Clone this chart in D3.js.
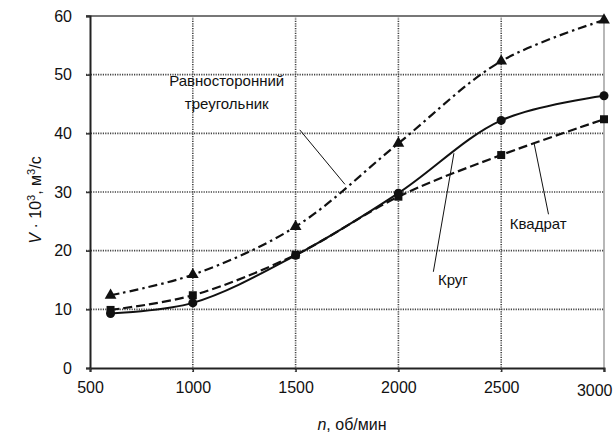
<!DOCTYPE html>
<html>
<head>
<meta charset="utf-8">
<script src="https://cdn.jsdelivr.net/npm/d3@7"></script>
<style>
  html, body { margin: 0; padding: 0; background: #fff; }
  svg { display: block; font-family: "Liberation Sans", Arial, sans-serif; }
</style>
</head>
<body>
<svg id="chart" width="614" height="433"></svg>
<script>
// ---- data ----
const nValues = [600, 1000, 1500, 2000, 2500, 3000];
const triangleValues = [12.4, 15.9, 24.1, 38.3, 52.3, 59.3];
const circleValues = [9.3, 11.1, 19.2, 29.8, 42.2, 46.4];
const squareValues = [9.9, 12.4, 19.3, 29.2, 36.3, 42.4];
const xTicks = [500, 1000, 1500, 2000, 2500, 3000];
const yTicks = [0, 10, 20, 30, 40, 50, 60];
const seriesNames = ["Равносторонний треугольник", "Круг", "Квадрат"];

(function () {
const svg = d3.select("#chart");
const pLeft = 90, pRight = 604, pTop = 16, pBottom = 368;

const x = d3.scaleLinear().domain([500, 3000]).range([pLeft, pRight]);
const y = d3.scaleLinear().domain([0, 60]).range([pBottom, pTop]);

// grid
const grid = svg.append("g");
grid.selectAll(".hg").data(yTicks.filter(v => v > 0 && v < 60)).join("line")
  .attr("x1", pLeft - 4).attr("x2", pRight)
  .attr("y1", d => y(d)).attr("y2", d => y(d))
  .attr("stroke", "#444").attr("stroke-width", 1.6).attr("stroke-dasharray", "1.2,1.2");
grid.selectAll(".vg").data(xTicks.filter(v => v > 500 && v < 3000)).join("line")
  .attr("x1", d => x(d)).attr("x2", d => x(d))
  .attr("y1", pTop).attr("y2", pBottom + 4)
  .attr("stroke", "#444").attr("stroke-width", 1.6).attr("stroke-dasharray", "1.2,1.2");

// top and right borders
svg.append("line").attr("x1", pLeft - 4).attr("x2", pRight).attr("y1", y(60)).attr("y2", y(60))
  .attr("stroke", "#777").attr("stroke-width", 2);
svg.append("line").attr("x1", pRight).attr("x2", pRight).attr("y1", pTop).attr("y2", pBottom + 4)
  .attr("stroke", "#888").attr("stroke-width", 1.2);

// axes
const yAxis = svg.append("g").attr("transform", `translate(${pLeft},0)`)
  .call(d3.axisLeft(y).tickValues(yTicks).tickFormat(d3.format("d")).tickSize(4).tickPadding(14));
const xAxis = svg.append("g").attr("transform", `translate(0,${pBottom})`)
  .call(d3.axisBottom(x).tickValues(xTicks).tickFormat(d3.format("d")).tickSize(4).tickPadding(10));
[yAxis, xAxis].forEach(a => {
  a.select(".domain").attr("stroke", "#222").attr("stroke-width", 2);
  a.selectAll(".tick line").attr("stroke", "#333").attr("stroke-width", 1.5);
  a.selectAll("text").attr("font-size", 16).attr("fill", "#111")
    .style("font-family", '"Liberation Sans", Arial, sans-serif');
});
xAxis.selectAll(".tick text").filter(d => d === 3000).attr("text-anchor", "end").attr("dx", 8).attr("dy", "0.85em");

// lines
const pts = vals => nValues.map((n, i) => [n, vals[i]]);
const line = d3.line().x(d => x(d[0])).y(d => y(d[1])).curve(d3.curveCatmullRom.alpha(0.5));

svg.append("path").datum(pts(triangleValues)).attr("d", line)
  .attr("fill", "none").attr("stroke", "#111").attr("stroke-width", 2.2)
  .attr("stroke-dasharray", "9,4,2.5,4");
svg.append("path").datum(pts(squareValues)).attr("d", line)
  .attr("fill", "none").attr("stroke", "#111").attr("stroke-width", 2.2)
  .attr("stroke-dasharray", "9,4");
svg.append("path").datum(pts(circleValues)).attr("d", line)
  .attr("fill", "none").attr("stroke", "#111").attr("stroke-width", 2);

// markers
const sym = (type, size) => d3.symbol().type(type).size(size)();
svg.selectAll(".tri").data(pts(triangleValues)).join("path")
  .attr("d", sym(d3.symbolTriangle, 60))
  .attr("transform", d => `translate(${x(d[0])},${y(d[1])})`).attr("fill", "#111");
svg.selectAll(".sq").data(pts(squareValues)).join("path")
  .attr("d", sym(d3.symbolSquare, 64))
  .attr("transform", d => `translate(${x(d[0])},${y(d[1])})`).attr("fill", "#111");
svg.selectAll(".ci").data(pts(circleValues)).join("path")
  .attr("d", sym(d3.symbolCircle, 64))
  .attr("transform", d => `translate(${x(d[0])},${y(d[1])})`).attr("fill", "#111");

// annotations
const ann = svg.append("g").attr("font-size", 15).attr("fill", "#111");
const words = seriesNames[0].split(" ");
ann.append("text").attr("x", x(1165)).attr("y", y(48.1)).attr("text-anchor", "middle").text(words[0]);
ann.append("text").attr("x", x(1165)).attr("y", y(44.2)).attr("text-anchor", "middle").text(words[1]);
ann.append("line").attr("x1", x(1520)).attr("y1", y(40.6)).attr("x2", x(1740)).attr("y2", y(31.3))
  .attr("stroke", "#111").attr("stroke-width", 1);

ann.append("text").attr("x", x(2265)).attr("y", y(14.1)).attr("text-anchor", "middle").text(seriesNames[1]);
ann.append("line").attr("x1", x(2170)).attr("y1", y(16.4)).attr("x2", x(2270)).attr("y2", y(36.6))
  .attr("stroke", "#111").attr("stroke-width", 1);

ann.append("text").attr("x", x(2680)).attr("y", y(23.7)).attr("text-anchor", "middle").text(seriesNames[2]);
ann.append("line").attr("x1", x(2730)).attr("y1", y(26.2)).attr("x2", x(2660)).attr("y2", y(38.3))
  .attr("stroke", "#111").attr("stroke-width", 1);

// axis titles
const xt = svg.append("text").attr("x", 352).attr("y", 430).attr("text-anchor", "middle")
  .attr("font-size", 16).attr("fill", "#111");
xt.append("tspan").attr("font-style", "italic").text("n");
xt.append("tspan").text(", об/мин");

const yt = svg.append("text").attr("transform", "translate(41,200) rotate(-90)")
  .attr("text-anchor", "middle").attr("font-size", 16).attr("fill", "#111");
yt.append("tspan").attr("font-style", "italic").text("V");
yt.append("tspan").text(" · 10");
yt.append("tspan").attr("font-size", 11).attr("dy", -6).text("3");
yt.append("tspan").attr("dy", 6).text(", м");
yt.append("tspan").attr("font-size", 11).attr("dy", -6).text("3");
yt.append("tspan").attr("dy", 6).text("/с");
})();
</script>
</body>
</html>
